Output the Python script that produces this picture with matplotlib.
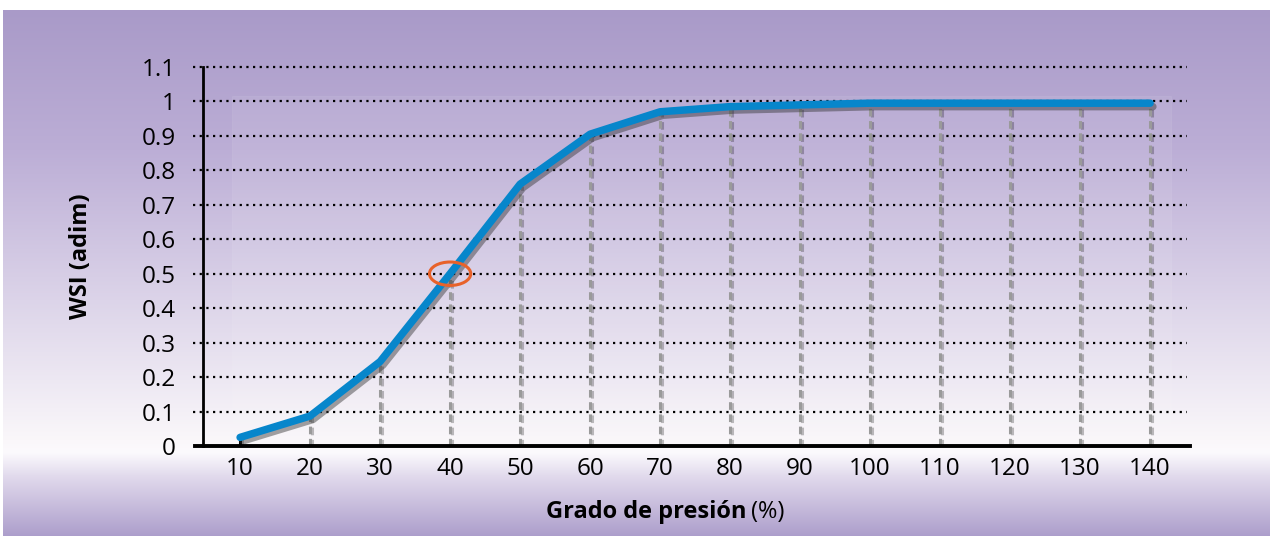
import numpy as np
import matplotlib
matplotlib.use("Agg")
import matplotlib.pyplot as plt
import matplotlib.patheffects as pe
from matplotlib.patches import Ellipse, Rectangle

# datos
grado = [10, 20, 30, 40, 50, 60, 70, 80, 90, 100, 110, 120, 130, 140]
wsi = [0.025, 0.087, 0.245, 0.50, 0.76, 0.905, 0.97, 0.985, 0.99, 0.995,
       0.995, 0.995, 0.995, 0.995]
yticks = [0, 0.1, 0.2, 0.3, 0.4, 0.5, 0.6, 0.7, 0.8, 0.9, 1, 1.1]
ytick_labels = ["0", "0.1", "0.2", "0.3", "0.4", "0.5", "0.6", "0.7", "0.8",
                "0.9", "1", "1.1"]

plt.rcParams["font.family"] = ["Open Sans", "DejaVu Sans"]

W, H = 1273, 536
fig = plt.figure(figsize=(W / 100, H / 100), dpi=100)
fig.patch.set_facecolor("white")

# fondo degradado violeta
stops_y = [10, 150, 300, 440, 452, 475, 536]
stops_c = np.array([(169, 154, 200), (188, 174, 214), (220, 212, 233),
                    (250, 247, 250), (252, 250, 253), (226, 219, 237),
                    (172, 157, 203)]) / 255.0
rows = np.arange(10, 536)
grad = np.stack([np.interp(rows, stops_y, stops_c[:, k]) for k in range(3)], axis=-1)
grad = np.repeat(grad[:, None, :], 2, axis=1)
bg = fig.add_axes([3 / W, 0, (1270 - 3) / W, (536 - 10) / H], zorder=-2)
bg.imshow(grad, aspect="auto", extent=(0, 1, 0, 1), interpolation="bilinear")
bg.axis("off")

# ejes
x0, x1, ytop, ybot = 203, 1190, 67, 446
ax = fig.add_axes([x0 / W, 1 - ybot / H, (x1 - x0) / W, (ybot - ytop) / H])
ax.patch.set_alpha(0)
ax.set_xlim(4.7, 145.7)
ax.set_ylim(0, 1.1)

# panel claro sutil
ax.add_patch(Rectangle((8.9, 0), 143 - 8.9, 1.015, facecolor="white",
                       alpha=0.08, edgecolor="white", lw=0.6, zorder=0))

for v in yticks:
    if v == 0:
        continue
    ax.axhline(v, xmin=-0.01, xmax=0.997, color="black", lw=1.6,
               ls=(0, (1, 2)), clip_on=False, zorder=1)

for gx, gy in zip(grado, wsi):
    col = "black" if gx == 10 else "#9a9a9a"
    ax.plot([gx, gx], [0, gy], color=col, lw=2.2, ls=(0, (2.5, 1.5)),
            zorder=2, path_effects=[pe.SimpleLineShadow(offset=(1.5, -1), alpha=0.25),
                                    pe.Normal()])

ax.plot(grado, wsi, color="#0786CB", lw=5.4, solid_capstyle="round",
        solid_joinstyle="round", zorder=4,
        path_effects=[pe.SimpleLineShadow(offset=(2, -2.5), alpha=0.45,
                                          shadow_color="#333333"),
                      pe.Normal()])

ax.add_patch(Ellipse((40, 0.5), 5.9, 0.068, fill=False, edgecolor="#E8622A",
                     lw=2.2, zorder=5))

for s in ["top", "right", "bottom"]:
    ax.spines[s].set_visible(False)
ax.spines["left"].set_linewidth(2)
ax.axhline(0, xmin=-0.008, xmax=1.0, color="black", lw=2.8, clip_on=False, zorder=6)

ax.set_yticks(yticks)
ax.set_yticklabels(ytick_labels)
ax.set_xticks(grado)
ax.tick_params(axis="both", length=0, labelsize=17.5)
ax.tick_params(axis="y", pad=19.5)
ax.tick_params(axis="x", pad=8)

ax.set_ylabel("WSI (adim)", fontsize=17, fontweight="bold")
ax.yaxis.set_label_coords(-(x0 - 93) / (x1 - x0), 0.5)
fig.text(746 / W, 1 - 512 / H, "Grado de presión", fontsize=17, fontweight="bold",
         ha="right", va="center")
fig.text(751 / W, 1 - 512 / H, "(%)", fontsize=17, ha="left", va="center")

fig.savefig("out.png", dpi=100)
